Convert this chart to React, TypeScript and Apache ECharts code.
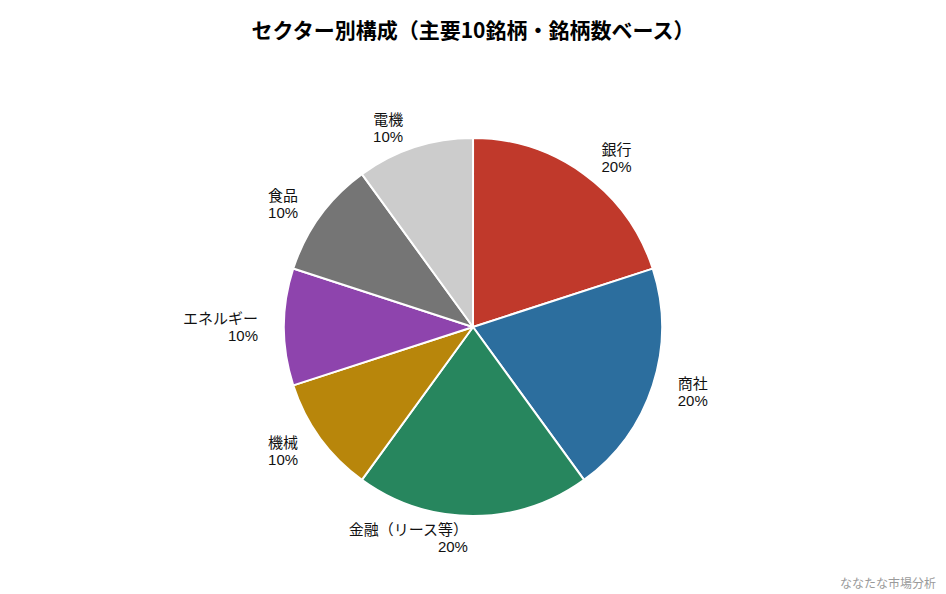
import React, { useEffect, useRef } from 'react';
import * as echarts from 'echarts';

const sectors = ['銀行', '商社', '金融（リース等）', '機械', 'エネルギー', '食品', '電機'];
const shares = [20, 20, 20, 10, 10, 10, 10];
const colors = ['#c0392b', '#2c6e9e', '#27865e', '#b8860b', '#8e44ad', '#757575', '#cccccc'];

const FONT = '"Noto Sans CJK JP", "Noto Sans", sans-serif';
const DIGIT_FONT = '"Liberation Sans", Arial, sans-serif';

const App: React.FC = () => {
  const ref = useRef<HTMLDivElement>(null);

  useEffect(() => {
    if (!ref.current) return;
    document.body.style.margin = '0';
    const chart = echarts.init(ref.current, null, { renderer: 'svg' });

    const data = sectors.map((name, i) => ({
      name,
      value: shares[i],
      itemStyle: { color: colors[i] },
    }));

    chart.setOption({
      animation: false,
      backgroundColor: '#ffffff',
      title: {
        text: 'セクター別構成（主要10銘柄・銘柄数ベース）',
        left: 'center',
        top: 13,
        textStyle: { fontSize: 21, fontWeight: 'bold', color: '#000', fontFamily: FONT },
      },
      graphic: [
        {
          type: 'text',
          right: 10,
          bottom: 6,
          style: { text: 'ななたな市場分析', fill: '#9a9a9a', fontSize: 12, fontFamily: FONT },
        },
      ],
      series: [
        {
          type: 'pie',
          center: [473, 327],
          radius: 189,
          // a hair under 90 so the bottom label goes to the left side, right aligned
          startAngle: 89.99,
          clockwise: true,
          data,
          itemStyle: { borderColor: '#ffffff', borderWidth: 2 },
          label: {
            show: true,
            position: 'outside',
            formatter: (p: any) => `{n|${p.name}}\n{p|${p.value}%}`,
            color: '#111',
            rich: {
              n: { fontSize: 15, lineHeight: 18, fontFamily: FONT, color: '#111' },
              p: { fontSize: 15, lineHeight: 18, fontFamily: DIGIT_FONT, color: '#111' },
            },
          },
          labelLine: { show: false, length: 21, length2: 0 },
          emphasis: { disabled: true },
        },
      ],
    });

    return () => {
      chart.dispose();
    };
  }, []);

  return <div ref={ref} style={{ width: 946, height: 594 }} />;
};

export default App;
